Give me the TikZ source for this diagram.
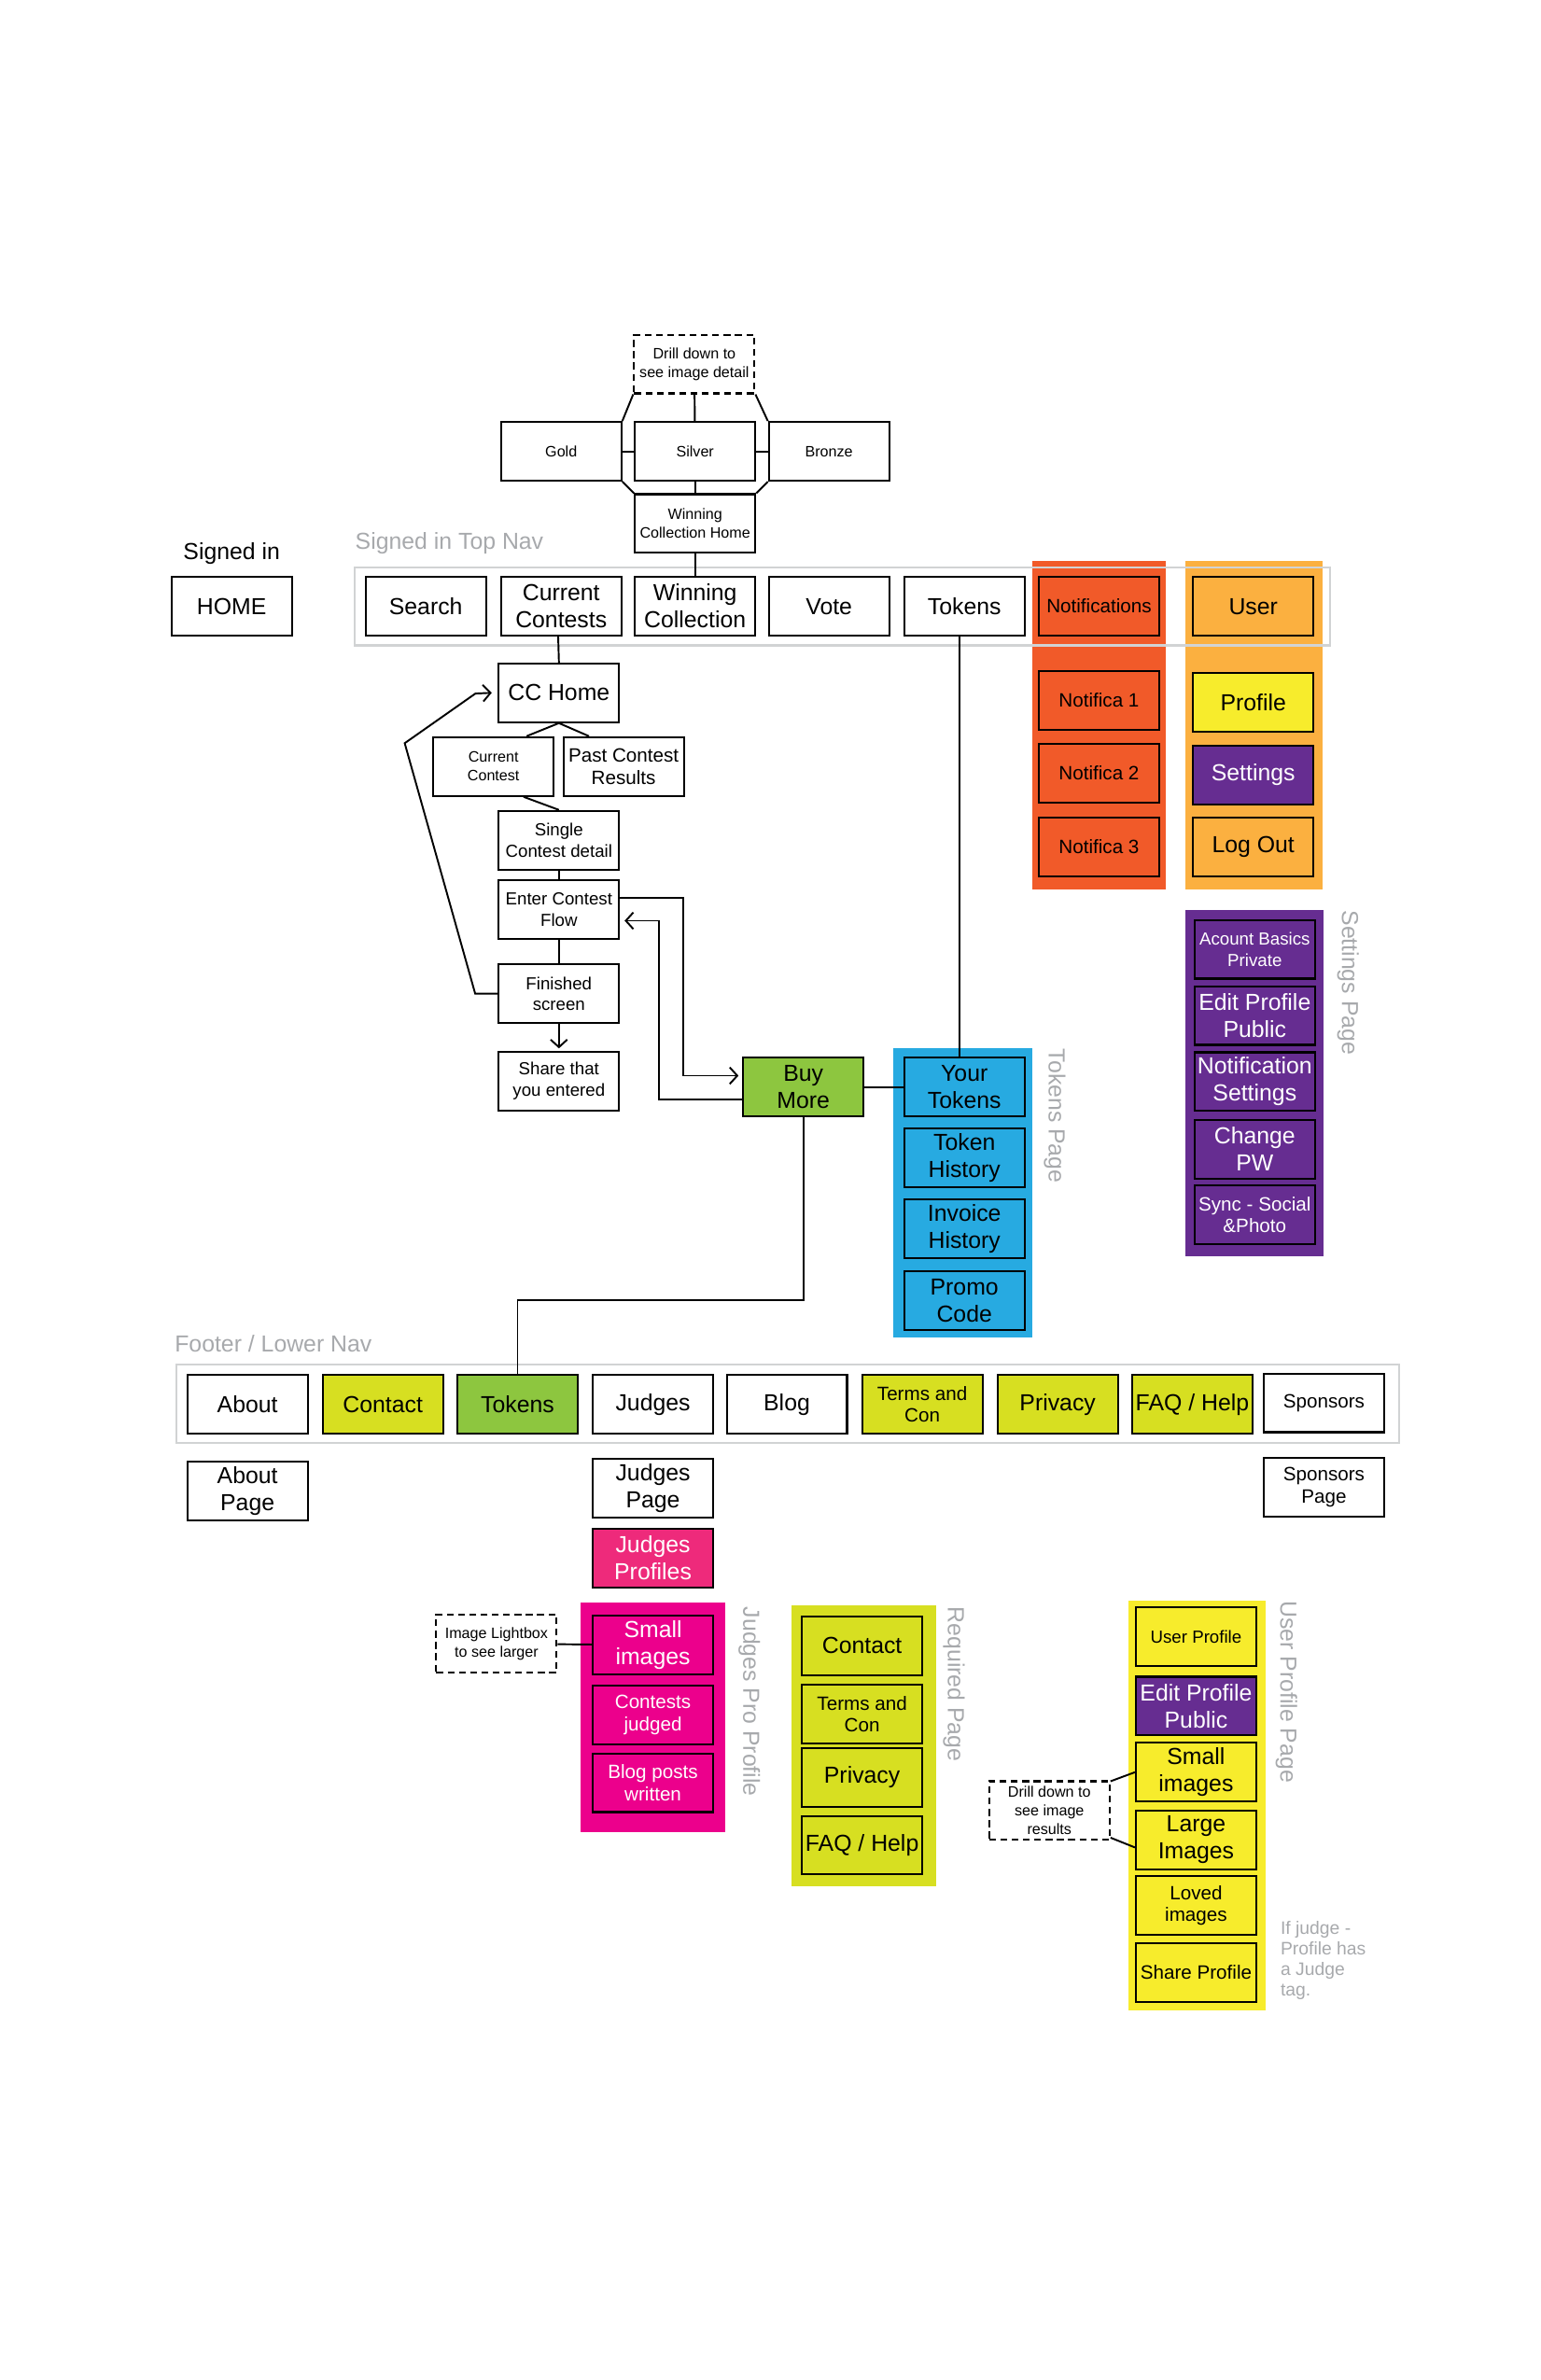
\documentclass[tikz,border=0pt]{standalone}
\usepackage{fontspec}
\setmainfont{Liberation Sans}
\usetikzlibrary{arrows.meta, calc}
\definecolor{notifyred}{HTML}{F15A29}
\definecolor{userorange}{HTML}{FBB040}
\definecolor{profyellow}{HTML}{F7EC2C}
\definecolor{setpurple}{HTML}{662D91}
\definecolor{tokblue}{HTML}{27AAE1}
\definecolor{buygreen}{HTML}{8DC63F}
\definecolor{reqlime}{HTML}{D7DF21}
\definecolor{judgepink}{HTML}{EC008C}
\definecolor{rosepink}{HTML}{EE2A7B}
\definecolor{notegray}{HTML}{A7A9AC}
\definecolor{framegray}{HTML}{D1D3D4}
\tikzset{
  % Set arrowhead
  >={Straight Barb[length=5pt, width=11pt]},
  % Font sizes
  bigtext/.style={font=\fontsize{15.4}{18}\selectfont},
  midtext/.style={font=\fontsize{12.8}{14.5}\selectfont},
  lowtext/.style={font=\fontsize{11.6}{14}\selectfont},
  smalltext/.style={font=\fontsize{10}{12.5}\selectfont},
  % General page box
  pagebox/.style={draw, line width=1.3pt, fill=white, shape=rectangle, align=center,
    minimum width=80pt, minimum height=39pt, inner sep=0pt, bigtext},
  % Box with a dashed border
  notebox/.style={pagebox, dash pattern=on 4.5pt off 3pt, fill=none, smalltext},
  % Coloured boxes
  redbox/.style={pagebox, fill=notifyred},
  orangebox/.style={pagebox, fill=userorange},
  yellowbox/.style={pagebox, fill=profyellow},
  purplebox/.style={pagebox, fill=setpurple, text=white},
  bluebox/.style={pagebox, fill=tokblue},
  greenbox/.style={pagebox, fill=buygreen},
  limebox/.style={pagebox, fill=reqlime},
  pinkbox/.style={pagebox, fill=judgepink, text=white},
  % Grey captions
  caption/.style={text=notegray, inner sep=0pt, bigtext},
  sidecaption/.style={caption, rotate=-90, anchor=west},
  % Nav frame
  navframe/.style={draw=framegray, line width=1.3pt},
  % Connector
  link/.style={line width=1.2pt},
}
\begin{document}
\begin{tikzpicture}[x=1pt, y=-1pt]
  \useasboundingbox (0,0) rectangle (1024,1582);

  % Panels behind the boxes
  \fill[notifyred] (686,373) rectangle (775,591);
  \fill[userorange] (788,373) rectangle (879,591);
  \fill[setpurple] (788,605) rectangle (880,835);
  \fill[tokblue] (594,697) rectangle (686,889);
  \fill[judgepink] (386,1065) rectangle (482,1218);
  \fill[reqlime] (526,1067) rectangle (622,1254);
  \fill[profyellow] (750,1064) rectangle (841,1336);

  % Nav frames
  \draw[navframe] (236,377) rectangle (884,429);
  \draw[navframe] (117,907) rectangle (930,959);

  % Captions
  \node[inner sep=0pt, bigtext] (signedin) at (154,368) {Signed in};
  \node[caption, anchor=west] (topnavcap) at (236,361) {Signed in Top Nav};
  \node[caption, anchor=west] (footcap) at (116,893) {Footer / Lower Nav};
  \node[sidecaption] (tokenscap) at (701,697) {Tokens Page};
  \node[sidecaption] (settingscap) at (896,605) {Settings Page};
  \node[sidecaption] (judgescap) at (498,1068) {Judges Pro Profile};
  \node[sidecaption] (requiredcap) at (634,1068) {Required Page};
  \node[sidecaption] (usercap) at (855,1064) {User Profile Page};
  \node[text=notegray, inner sep=0pt, anchor=north west, align=left,
    font=\fontsize{12}{13.5}\selectfont] (judgenote) at (851,1277)
    {If judge -\\Profile has\\a Judge\\tag.};

  % Winning collection drill down
  \node[notebox] (drill) at (461.5,242) {Drill down to\\see image detail};
  \node[pagebox, smalltext] (gold) at (373,300) {Gold};
  \node[pagebox, smalltext] (silver) at (462,300) {Silver};
  \node[pagebox, smalltext] (bronze) at (551,300) {Bronze};
  \node[pagebox, smalltext] (wchome) at (462,348) {Winning\\Collection Home};

  % Top nav
  \node[pagebox] (home) at (154,403) {HOME};
  \node[pagebox] (search) at (283,403) {Search};
  \node[pagebox] (current) at (373,403) {Current\\Contests};
  \node[pagebox] (winning) at (462,403) {Winning\\Collection};
  \node[pagebox] (vote) at (551,403) {Vote};
  \node[pagebox] (tokens) at (641,403) {Tokens};

  % Notifications
  \node[redbox, midtext] (notify) at (730.5,403) {Notifications};
  \node[redbox, midtext] (notifya) at (730.5,465.5) {Notifica 1};
  \node[redbox, midtext] (notifyb) at (730.5,514) {Notifica 2};
  \node[redbox, midtext] (notifyc) at (730.5,563) {Notifica 3};

  % User menu
  \node[orangebox] (user) at (833,403) {User};
  \node[yellowbox] (profile) at (833,467) {Profile};
  \node[purplebox] (settings) at (833,515) {Settings};
  \node[orangebox] (logout) at (833,563) {Log Out};

  % Settings page
  \node[purplebox, lowtext] (account) at (834,631) {Acount Basics\\Private};
  \node[purplebox] (editprof) at (834,675) {Edit Profile\\Public};
  \node[purplebox] (notifset) at (834,719) {Notification\\Settings};
  \node[purplebox] (changepw) at (834,764) {Change\\PW};
  \node[purplebox, midtext] (sync) at (834,807.5) {Sync - Social\\\&Photo};

  % Contest flow
  \node[pagebox] (cchome) at (371.5,460.5) {CC Home};
  \node[pagebox, smalltext] (curcontest) at (328,509.5) {Current\\Contest};
  \node[pagebox, midtext] (past) at (414.5,509.5) {Past Contest\\Results};
  \node[pagebox, lowtext] (single) at (371.5,558.5) {Single\\Contest detail};
  \node[pagebox, lowtext] (enter) at (371.5,604.5) {Enter Contest\\Flow};
  \node[pagebox, lowtext] (finished) at (371.5,660.5) {Finished\\screen};
  \node[pagebox, lowtext] (share) at (371.5,718.5) {Share that\\you entered};

  % Tokens page
  \node[greenbox] (buy) at (534,722.5) {Buy\\More};
  \node[bluebox] (yourtok) at (641,722.5) {Your\\Tokens};
  \node[bluebox] (tokhist) at (641,769.5) {Token\\History};
  \node[bluebox] (invhist) at (641,816.5) {Invoice\\History};
  \node[bluebox] (promo) at (641,864.5) {Promo\\Code};

  % Footer nav
  \node[pagebox] (about) at (164.5,933.5) {About};
  \node[limebox] (contact) at (254.5,933.5) {\raisebox{-1.5pt}{Contact}};
  \node[greenbox] (foottok) at (344,933.5) {\raisebox{-1pt}{Tokens}};
  \node[pagebox] (judges) at (434,933.5) {Judges};
  \node[pagebox] (blog) at (523,933.5) {Blog};
  \node[limebox, midtext] (terms) at (613,933.5) {Terms and\\Con};
  \node[limebox] (privacy) at (703,933.5) {Privacy};
  \node[limebox] (faq) at (792.5,933.5) {FAQ / Help};
  \node[pagebox, midtext] (sponsors) at (880,932.5) {Sponsors};

  % Footer pages
  \node[pagebox] (aboutpg) at (164.5,991) {About\\Page};
  \node[pagebox] (judgespg) at (434,989) {Judges\\Page};
  \node[pagebox, midtext] (sponsorspg) at (880,988.5) {Sponsors\\Page};
  \node[pagebox, fill=rosepink, text=white] (judgesprof) at (434,1035.5) {Judges\\Profiles};

  % Judges pro profile
  \node[notebox] (lightbox) at (330,1092.5) {Image Lightbox\\to see larger};
  \node[pinkbox] (jsmall) at (434,1093.5) {Small\\images};
  \node[pinkbox, midtext] (jcontests) at (434,1140) {Contests\\judged};
  \node[pinkbox, midtext] (jblog) at (434,1185) {Blog posts\\written};

  % Required page
  \node[limebox] (rcontact) at (573,1094) {Contact};
  \node[limebox, midtext] (rterms) at (573,1139.5) {Terms and\\Con};
  \node[limebox] (rprivacy) at (573,1181.5) {Privacy};
  \node[limebox] (rfaq) at (573,1226.5) {FAQ / Help};

  % User profile page
  \node[yellowbox, lowtext] (uprofile) at (795,1088) {User Profile};
  \node[purplebox] (uedit) at (795,1134) {Edit Profile\\Public};
  \node[yellowbox] (usmall) at (795,1178) {Small\\images};
  \node[yellowbox] (ularge) at (795,1223) {Large\\Images};
  \node[yellowbox, midtext] (uloved) at (795,1266.5) {Loved\\images};
  \node[yellowbox, midtext] (ushare) at (795,1311) {Share Profile};
  \node[notebox] (drillres) at (697.5,1203.5) {Drill down to\\see image\\results};

  % Connectors
  \draw[link] (drill) -- (silver);
  \draw[link] (drill.south west) -- (gold.north east);
  \draw[link] (drill.south east) -- (bronze.north west);
  \draw[link] (gold) -- (silver);
  \draw[link] (silver) -- (bronze);
  \draw[link] (silver) -- (wchome);
  \draw[link] (gold.south east) -- (wchome.north west);
  \draw[link] (bronze.south west) -- (wchome.north east);
  \draw[link] (wchome.south) -- (winning.north);
  \draw[link] (current.south -| 371,0) -- (cchome.north);
  \draw[link] (cchome.south) -- ([xshift=22pt]curcontest.north);
  \draw[link] (cchome.south) -- ([xshift=-23pt]past.north);
  \draw[link] ([xshift=20pt]curcontest.south) -- (single.north);
  \draw[link] (single) -- (enter);
  \draw[link] (enter) -- (finished);
  \draw[link, ->] (finished) -- ([yshift=1.5pt]share.north);
  \draw[link, ->] (finished.west) -- ++(-15,0) -- (269,494) -- (316,461) -- ([xshift=-4pt]cchome.west);
  \draw[link, ->] ([yshift=7.5pt]enter.east) -| (454,715) -- ([xshift=-2.5pt, yshift=7.5pt]buy.west);
  \draw[link, ->] ([yshift=-8.5pt]buy.west) -| (438,612) -- ([xshift=3pt, yshift=-7.5pt]enter.east);
  \draw[link] (buy) -- (yourtok);
  \draw[link] (buy.south) |- (344,864) -- (foottok.north);
  \draw[link] (tokens.south -| 638,0) -- (yourtok.north -| 638,0);
  \draw[link] (lightbox) -- (jsmall);
  \draw[link] ([yshift=19.5pt]drillres.east) -- (usmall.west);
  \draw[link] ([yshift=-18pt]drillres.east) -- ([yshift=-5pt]ularge.west);
\end{tikzpicture}
\end{document}
